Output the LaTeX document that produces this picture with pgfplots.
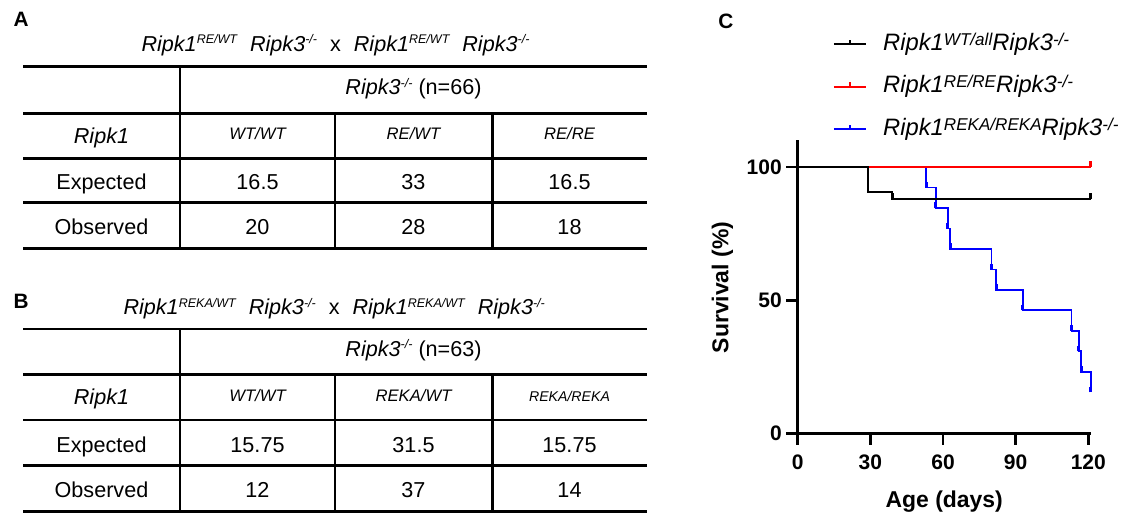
\documentclass[border=0pt]{standalone}
\usepackage{fontspec}
\setmainfont{Liberation Sans}
\usepackage{graphicx}
\usepackage{pgfplots}
\pgfplotsset{compat=1.18}

\newcommand{\tsup}[1]{\raisebox{0.36em}{\scalebox{0.58}{#1}}}
\newcommand{\lsup}[1]{\raisebox{0.22em}{\scalebox{0.72}{#1}}}
\newcommand{\tf}{\fontsize{16.2}{19}\selectfont}
\newcommand{\hf}{\fontsize{12.5}{15}\selectfont\itshape}
\newcommand{\hfs}{\fontsize{10.6}{13}\selectfont\itshape}
\newcommand{\pf}{\bfseries\fontsize{15.6}{18}\selectfont}

\pgfdeclareplotmark{tickup}{\pgfpathmoveto{\pgfqpoint{0pt}{0pt}}\pgfpathlineto{\pgfqpoint{0pt}{\pgfplotmarksize}}\pgfusepathqstroke}

\begin{document}
\begin{tikzpicture}
\begin{scope}[x=0.75pt,y=0.75pt]
\path[use as bounding box] (0,0) rectangle (1129,514);

% ---------------- Table A ----------------
\begin{scope}[line width=2pt]
\draw (23,447.3) -- (647,447.3);
\draw (23,400.7) -- (647,400.7);
\draw (23,355.7) -- (647,355.7);
\draw (23,311.3) -- (647,311.3);
\draw (23,265.7) -- (647,265.7);
\draw (180,447.3) -- (180,265.7);
\draw (335,400.7) -- (335,265.7);
\draw (492.3,400.7) -- (492.3,265.7);
\end{scope}
\begin{scope}[every node/.style={inner sep=0pt, anchor=base, font=\tf}]
\node[anchor=base west, font=\pf] at (13.3,487.3) {A};
\node at (335.5,462.3) {\textit{Ripk1\tsup{RE/WT}}\hspace{0.6em}\textit{Ripk3\tsup{-/-}}\hspace{0.6em}x\hspace{0.6em}\textit{Ripk1\tsup{RE/WT}}\hspace{0.6em}\textit{Ripk3\tsup{-/-}}};
\node at (413.5,419) {\textit{Ripk3\tsup{-/-}} (n=66)};
\node at (101.5,370.7) {\textit{Ripk1}};
\node[font=\hf] at (257.5,374.7) {WT/WT};
\node[font=\hf] at (413.5,374.7) {RE/WT};
\node[font=\hf] at (569.5,374.7) {RE/RE};
\node at (101.5,324.7) {Expected};
\node at (257.5,324.7) {16.5};
\node at (413.5,324.7) {33};
\node at (569.5,324.7) {16.5};
\node at (101.5,279) {Observed};
\node at (257.5,279) {20};
\node at (413.5,279) {28};
\node at (569.5,279) {18};
\end{scope}

% ---------------- Table B ----------------
\begin{scope}[line width=2pt]
\draw (23,185) -- (647,185);
\draw (23,139.7) -- (647,139.7);
\draw (23,94) -- (647,94);
\draw (23,48.3) -- (647,48.3);
\draw (23,2.3) -- (647,2.3);
\draw (180,185) -- (180,2.3);
\draw (335,139.7) -- (335,2.3);
\draw (492.3,139.7) -- (492.3,2.3);
\end{scope}
\begin{scope}[every node/.style={inner sep=0pt, anchor=base, font=\tf}]
\node[anchor=base west, font=\pf] at (13.3,205.7) {B};
\node at (334.2,199) {\textit{Ripk1\tsup{REKA/WT}}\hspace{0.6em}\textit{Ripk3\tsup{-/-}}\hspace{0.6em}x\hspace{0.6em}\textit{Ripk1\tsup{REKA/WT}}\hspace{0.6em}\textit{Ripk3\tsup{-/-}}};
\node at (413.5,157.3) {\textit{Ripk3\tsup{-/-}} (n=63)};
\node at (101.5,109) {\textit{Ripk1}};
\node[font=\hf] at (257.5,112.3) {WT/WT};
\node[font=\hf] at (413.5,112.3) {REKA/WT};
\node[font=\hfs] at (569.5,112.3) {REKA/REKA};
\node at (101.5,61.7) {Expected};
\node at (257.5,61.7) {15.75};
\node at (413.5,61.7) {31.5};
\node at (569.5,61.7) {15.75};
\node at (101.5,16.7) {Observed};
\node at (257.5,16.7) {12};
\node at (413.5,16.7) {37};
\node at (569.5,16.7) {14};
\end{scope}

% ---------------- Panel C label ----------------
\node[anchor=base west, inner sep=0pt, font=\pf] at (718,485.7) {C};
\end{scope}

\begin{axis}[
  at={(598.3pt,60.5pt)}, anchor=south west,
  scale only axis, width=219.75pt, height=219.7pt,
  xmin=0, xmax=121, ymin=0, ymax=110,
  axis lines=left, axis line style={-, line width=2.2pt},
  xtick={0,30,60,90,120}, ytick={0,50,100},
  tick align=outside, major tick length=8.5pt,
  tick style={black, line width=2.2pt},
  tick label style={font=\bfseries\fontsize{15.75}{18}\selectfont},
  xticklabel style={yshift=-4pt},
  /pgf/number format/assume math mode=true,
  xlabel={Age (days)}, ylabel={Survival (\%)},
  label style={font=\bfseries\fontsize{17.2}{20}\selectfont},
  xlabel style={at={(axis description cs:0.5,-0.232)}, anchor=center},
  ylabel style={at={(axis description cs:-0.2567,0.4978)}, anchor=center},
  clip=false,
  reverse legend,
  legend cell align=left,
  legend style={draw=none, fill=none, at={(axis description cs:0.1205,1.367)}, anchor=north west,
    inner sep=0pt, outer sep=0pt, row sep=14.9pt,
    nodes={inner sep=0pt, text height=13pt, text depth=4pt},
    font=\fontsize{17.8}{21}\selectfont\itshape},
]
\addplot[blue, line width=1.3pt, const plot,
  legend image code/.code={\draw[blue, line width=1.3pt] (0pt,0pt) -- (24pt,0pt); \draw[blue, line width=1.6pt] (12pt,0pt) -- (12pt,3.5pt); \path[draw=none, fill=none] (0pt,0pt) -- (37pt,0pt);}]
  coordinates {(0,100)(53,92.3)(57,84.6)(62,76.9)(63,69.2)(80,61.5)(82,53.8)(93,46.2)(113,38.5)(116,30.8)(117,23.1)(121,15.4)};
\addlegendentry{Ripk1\lsup{REKA/REKA}Ripk3\lsup{-/-}}
\addplot[blue, only marks, mark=tickup, mark size=4.2pt, line width=2.3pt, forget plot]
  coordinates {(53,92.3)(57,84.6)(62,76.9)(63,69.2)(80,61.5)(82,53.8)(93,46.2)(113,38.5)(116,30.8)(117,23.1)(121,15.4)};

\addplot[red, line width=1.2pt, const plot,
  legend image code/.code={\draw[red, line width=1.2pt] (0pt,0pt) -- (24pt,0pt); \draw[red, line width=1.6pt] (12pt,0pt) -- (12pt,3.5pt); \path[draw=none, fill=none] (0pt,0pt) -- (37pt,0pt);}]
  coordinates {(0,100)(121,100)};
\addlegendentry{Ripk1\lsup{RE/RE}Ripk3\lsup{-/-}}
\addplot[red, only marks, mark=tickup, mark size=4.2pt, line width=2pt, forget plot]
  coordinates {(121,100)};

\addplot[black, line width=1.2pt, const plot,
  legend image code/.code={\draw[black, line width=1.2pt] (0pt,0pt) -- (24pt,0pt); \draw[black, line width=1.6pt] (12pt,0pt) -- (12pt,3.5pt); \path[draw=none, fill=none] (0pt,0pt) -- (37pt,0pt);}]
  coordinates {(0,100)(29,90.6)(39,88)(121,88)};
\addlegendentry{Ripk1\lsup{WT/all}Ripk3\lsup{-/-}}
\addplot[black, only marks, mark=tickup, mark size=4.2pt, line width=2pt, forget plot]
  coordinates {(29,90.6)(39,88)(121,88)};
\end{axis}
\end{tikzpicture}
\end{document}
